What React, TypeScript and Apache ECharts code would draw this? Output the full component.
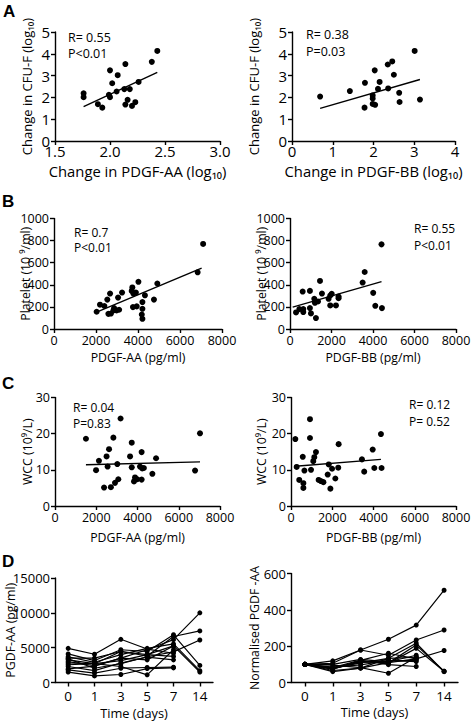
import React, { useEffect, useRef } from "react";
import * as echarts from "echarts";

// ---------- DATA ----------
// Panel A left: change in PDGF-AA (log10) vs change in CFU-F (log10)
const aLeftPts: number[][] = [
  [1.76, 2.19], [1.76, 2.01], [1.89, 1.69], [1.93, 1.53], [2.0, 3.24], [1.99, 2.12],
  [2.0, 2.01], [2.02, 2.65], [2.06, 2.27], [2.07, 3.02], [2.14, 3.53], [2.13, 2.38],
  [2.14, 1.67], [2.16, 1.89], [2.18, 2.38], [2.2, 1.61], [2.23, 1.78], [2.26, 2.71],
  [2.38, 3.63], [2.43, 4.13],
];
const aLeftFit: number[][] = [[1.76, 1.58], [2.43, 3.15]];
// Panel A right: change in PDGF-BB (log10) vs change in CFU-F (log10)
const aRightPts: number[][] = [
  [0.69, 2.04], [1.42, 2.29], [1.79, 2.67], [1.78, 1.53], [1.98, 2.09], [1.98, 1.95],
  [1.98, 1.7], [2.04, 1.66], [2.03, 3.24], [2.11, 2.39], [2.15, 2.71], [2.35, 3.51],
  [2.36, 2.41], [2.46, 3.65], [2.5, 3.04], [2.63, 2.21], [2.64, 1.79], [3.01, 4.13],
  [3.14, 1.9],
];
const aRightFit: number[][] = [[0.69, 1.5], [3.14, 2.82]];
// Panel B left: PDGF-AA (pg/ml) vs platelet
const bLeftPts: number[][] = [
  [2030, 156], [2190, 220], [2400, 208], [2540, 266], [2670, 321], [2590, 137],
  [2710, 140], [2830, 168], [2860, 189], [2980, 168], [3100, 174], [3050, 284],
  [3240, 330], [3700, 345], [3730, 376], [3780, 321], [3900, 330], [3760, 198],
  [3940, 205], [4020, 427], [4210, 183], [4210, 244], [4180, 131], [4210, 92],
  [4330, 305], [4760, 266], [4920, 412], [6840, 513], [7100, 770],
];
const bLeftFit: number[][] = [[2030, 153], [7030, 550]];
// Panel B right: PDGF-BB (pg/ml) vs platelet
const bRightPts: number[][] = [
  [290, 150], [450, 180], [610, 339], [640, 153], [640, 180], [960, 345], [960, 189],
  [1010, 141], [1170, 273], [1200, 237], [1250, 99], [1350, 249], [1445, 435],
  [1540, 321], [1860, 273], [1940, 303], [2010, 318], [1940, 213], [2215, 213],
  [2340, 294], [2340, 279], [3500, 420], [3600, 516], [4010, 327], [4110, 210],
  [4410, 766], [4430, 189],
];
const bRightFit: number[][] = [[130, 198], [4410, 429]];
// Panel C left: PDGF-AA (pg/ml) vs WCC
const cLeftPts: number[][] = [
  [1500, 18.6], [1990, 9.9], [2130, 12.5], [2380, 5.1], [2500, 13.7], [2550, 10.9],
  [2620, 15.7], [2710, 5.2], [2830, 18.9], [2910, 6.4], [3020, 11.6], [3070, 7.4],
  [3180, 24.2], [3640, 13.7], [3720, 17.5], [3720, 10.7], [3830, 6.8], [3880, 7.9],
  [3990, 7.4], [4120, 10.9], [4200, 14.9], [4230, 10.4], [4310, 10.5], [4200, 7.3],
  [4720, 8.9], [4900, 13.2], [6790, 9.8], [7030, 20.1],
];
const cLeftFit: number[][] = [[1500, 11.4], [7030, 12.2]];
// Panel C right: PDGF-BB (pg/ml) vs WCC
const cRightPts: number[][] = [
  [210, 18.5], [275, 10.8], [400, 7.2], [570, 13.6], [600, 6.3], [600, 5.0], [650, 9.8],
  [920, 24.0], [920, 18.8], [970, 10.0], [1080, 12.4], [1130, 13.5], [1210, 14.9],
  [1340, 7.2], [1450, 6.9], [1570, 6.6], [1780, 8.7], [1830, 11.5], [1910, 4.8],
  [1990, 10.3], [2150, 7.6], [2290, 10.6], [2310, 17.1], [3440, 12.9], [3550, 9.5],
  [3960, 15.6], [4040, 10.5], [4390, 10.5], [4360, 19.9],
];
const cRightFit: number[][] = [[210, 11.0], [4360, 12.9]];
// Panel D: time course
const days: string[] = ["0", "1", "3", "5", "7", "14"];
const dLeftSeries: number[][] = [
  [1950, 2350, 3500, 4700, 6150, 10000],
  [2550, 2700, 4450, 3800, 6600, 7400],
  [3400, 2050, 2700, 3700, 4400, 6100],
  [4100, 3150, 4700, 4450, 6850, 2450],
  [3700, 2900, 4000, 4900, 5550, 1700],
  [3000, 2400, 3500, 3250, 5250, 1500],
  [2800, 2700, 2300, 1100, 4700],
  [1500, 950, 1150, 2000, 2100],
  [4900, 4050, 6200, 4800, 4200],
  [3250, 2700, 3150, 4000, 3750],
  [2300, 1700, 2800, 3650, 3250],
  [1800, 1350, 2050, 2150, 2200],
  [3500, 3500, 4450, 4000, 5250],
];
const dRightSeries: number[][] = [
  [100, 119, 179, 238, 316, 508],
  [100, 106, 179, 150, 234, 289],
  [100, 60, 79, 109, 130, 176],
  [100, 77, 115, 108, 206, 62],
  [100, 78, 108, 133, 216, 60],
  [100, 80, 115, 106, 188, 62],
  [100, 96, 82, 51, 139],
  [100, 66, 79, 133, 139],
  [100, 82, 124, 98, 88],
  [100, 85, 97, 121, 115],
  [100, 74, 122, 161, 130],
  [100, 75, 114, 119, 122],
  [100, 100, 127, 114, 150],
];

// ---------- STYLE ----------
const FONT = "'Open Sans', 'DejaVu Sans', sans-serif";
const BLACK = "#000";
const plain = (v: number) => String(v);

type Sizes = { tick: number; name: number; margin?: number };

function valueAxis(gridIndex: number, min: number, max: number, interval: number, name: string, nameGap: number, isY: boolean, sz: Sizes, fmt?: (v: number) => string) {
  return {
    type: "value",
    gridIndex,
    min,
    max,
    interval,
    name,
    nameLocation: "middle",
    nameGap,
    nameMoveOverlap: false,
    nameRotate: isY ? 90 : 0,
    nameTextStyle: { fontFamily: FONT, fontSize: sz.name, color: BLACK },
    axisLine: { show: true, onZero: false, lineStyle: { color: BLACK, width: 1.4 } },
    axisTick: { show: true, inside: false, length: 4, lineStyle: { color: BLACK, width: 1.4 } },
    axisLabel: { fontFamily: FONT, fontSize: sz.tick, color: BLACK, margin: sz.margin ?? 5, formatter: fmt || plain, hideOverlap: false },
    splitLine: { show: false },
  };
}

function categoryAxis(gridIndex: number, nameGap: number) {
  return {
    type: "category",
    gridIndex,
    data: days,
    boundaryGap: true,
    name: "Time (days)",
    nameLocation: "middle",
    nameGap,
    nameMoveOverlap: false,
    nameTextStyle: { fontFamily: FONT, fontSize: 12.8, color: BLACK },
    axisLine: { show: true, lineStyle: { color: BLACK, width: 1.4 } },
    axisTick: { show: true, alignWithLabel: true, length: 4, lineStyle: { color: BLACK, width: 1.4 } },
    axisLabel: { fontFamily: FONT, fontSize: 13.5, color: BLACK, margin: 6 },
    splitLine: { show: false },
  };
}

function scatter(idx: number, data: number[][]) {
  return {
    type: "scatter",
    xAxisIndex: idx,
    yAxisIndex: idx,
    data,
    symbol: "circle",
    symbolSize: 6,
    itemStyle: { color: BLACK, opacity: 1 },
    silent: true,
  };
}

function fit(idx: number, data: number[][]) {
  return {
    type: "line",
    xAxisIndex: idx,
    yAxisIndex: idx,
    data,
    showSymbol: false,
    symbol: "none",
    lineStyle: { color: BLACK, width: 1.4 },
    silent: true,
  };
}

function timeLines(idx: number, rows: number[][]) {
  return rows.map((r) => ({
    type: "line",
    xAxisIndex: idx,
    yAxisIndex: idx,
    data: r,
    symbol: "circle",
    symbolSize: 5,
    showSymbol: true,
    itemStyle: { color: BLACK, opacity: 1 },
    lineStyle: { color: BLACK, width: 1.2 },
    silent: true,
  }));
}

function txt(text: string, x: number, y: number, size = 12, bold = false, family = FONT) {
  return {
    type: "text",
    x,
    y,
    silent: true,
    style: {
      text,
      fill: BLACK,
      font: `${bold ? "bold " : ""}${size}px ${family}`,
      verticalAlign: "middle",
      align: "left",
    },
  };
}

const fmt1 = (v: number) => v.toFixed(1);

export default function App() {
  const ref = useRef<HTMLDivElement>(null);
  useEffect(() => {
    if (!ref.current) return;
    const chart = echarts.init(ref.current, null, { renderer: "svg" });
    const grids = [
      { left: 55, top: 32, width: 165, height: 109 },
      { left: 292, top: 32, width: 163, height: 109 },
      { left: 54, top: 218.5, width: 168, height: 110.5 },
      { left: 290, top: 218.5, width: 166, height: 110.5 },
      { left: 55, top: 397.5, width: 165, height: 108.5 },
      { left: 291, top: 397.5, width: 165, height: 108.5 },
      { left: 55, top: 578, width: 158, height: 104.5 },
      { left: 291, top: 573.5, width: 167, height: 109 },
    ].map((g) => ({ ...g, containLabel: false, outerBoundsMode: "none" }));

    const aX: Sizes = { tick: 15, name: 14.8, margin: 2 };
    const aY: Sizes = { tick: 15, name: 13 };
    const bc: Sizes = { tick: 12.5, name: 12.3 };
    const d: Sizes = { tick: 13, name: 12.3 };

    const xAxis = [
      valueAxis(0, 1.5, 3.0, 0.5, "Change in PDGF-AA (log₁₀)", 22, false, aX, fmt1),
      valueAxis(1, 0, 4, 1, "Change in PDGF-BB (log₁₀)", 22, false, aX),
      valueAxis(2, 0, 8000, 2000, "PDGF-AA (pg/ml)", 22, false, bc),
      valueAxis(3, 0, 8000, 2000, "PDGF-BB (pg/ml)", 22, false, bc),
      valueAxis(4, 0, 8000, 2000, "PDGF-AA (pg/ml)", 25, false, bc),
      valueAxis(5, 0, 8000, 2000, "PDGF-BB (pg/ml)", 25, false, bc),
      categoryAxis(6, 24),
      categoryAxis(7, 23),
    ];
    const yAxis = [
      valueAxis(0, 0, 5, 1, "Change in CFU-F (log₁₀)", 21.5, true, aY),
      valueAxis(1, 0, 5, 1, "Change in CFU-F (log₁₀)", 31.5, true, aY),
      valueAxis(2, 0, 1000, 200, "Platelet (10 ⁹/ml)", 23, true, bc),
      valueAxis(3, 0, 1000, 200, "Platelet (10 ⁹/ml)", 23, true, bc),
      valueAxis(4, 0, 30, 10, "WCC (10⁹/L)", 22, true, bc),
      valueAxis(5, 0, 30, 10, "WCC (10⁹/L)", 24, true, bc),
      valueAxis(6, 0, 15000, 5000, "PGDF-AA (pg/ml)", 38.5, true, d),
      valueAxis(7, 0, 600, 200, "Normalised PGDF -AA", 30.5, true, d),
    ];

    const series: any[] = [
      scatter(0, aLeftPts), fit(0, aLeftFit),
      scatter(1, aRightPts), fit(1, aRightFit),
      scatter(2, bLeftPts), fit(2, bLeftFit),
      scatter(3, bRightPts), fit(3, bRightFit),
      scatter(4, cLeftPts), fit(4, cLeftFit),
      scatter(5, cRightPts), fit(5, cRightFit),
      ...timeLines(6, dLeftSeries),
      ...timeLines(7, dRightSeries),
    ];

    const LETTER_FONT = "'Liberation Sans', Arial, sans-serif";
    const graphic = [
      txt("A", 3, 11, 17, true, LETTER_FONT),
      txt("B", 2, 201, 17, true, LETTER_FONT),
      txt("C", 2, 383, 17, true, LETTER_FONT),
      txt("D", 2, 561, 17, true, LETTER_FONT),
      txt("R= 0.55", 68, 37, 12.5), txt("P<0.01", 68, 53, 12.5),
      txt("R= 0.38", 306, 34, 12.5), txt("P=0.03", 306, 51, 12.5),
      txt("R= 0.7", 74, 232), txt("P<0.01", 74, 247),
      txt("R= 0.55", 414, 228), txt("P<0.01", 414, 245),
      txt("R= 0.04", 73, 407), txt("P=0.83", 73, 423),
      txt("R= 0.12", 409, 404), txt("P= 0.52", 409, 421),
    ];

    chart.setOption({
      animation: false,
      backgroundColor: "#fff",
      grid: grids,
      xAxis,
      yAxis,
      series,
      graphic,
    });
    return () => chart.dispose();
  }, []);
  return (
    <div
      ref={ref}
      style={{ position: "absolute", left: 0, top: 0, width: 472, height: 723 }}
    />
  );
}
